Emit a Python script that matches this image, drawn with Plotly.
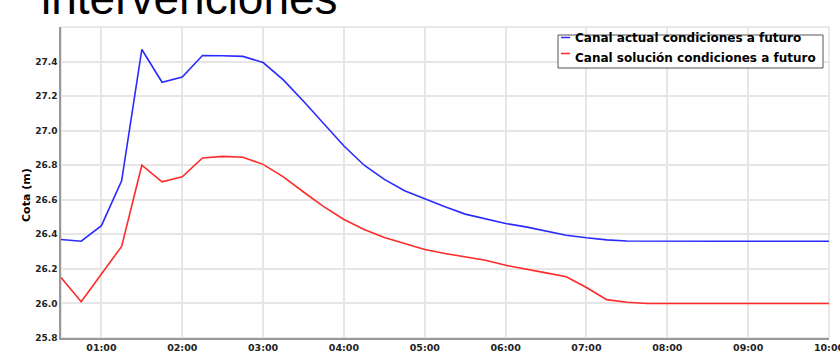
import plotly.graph_objects as go
import pandas as pd

# Time stamps every 15 minutes from 00:30 to 10:00
times = pd.date_range("2000-01-01 00:30", "2000-01-01 10:00", freq="15min")

actual = [26.37, 26.36, 26.45, 26.71, 27.47, 27.28, 27.31, 27.435, 27.434, 27.43,
          27.394, 27.294, 27.17, 27.043, 26.911, 26.80, 26.718, 26.652, 26.604, 26.559,
          26.517, 26.488, 26.463, 26.443, 26.419, 26.395, 26.38, 26.368, 26.361, 26.36,
          26.36, 26.36, 26.36, 26.36, 26.36, 26.36, 26.36, 26.36, 26.36]

solucion = [26.15, 26.01, 26.17, 26.33, 26.80, 26.704, 26.733, 26.842, 26.851, 26.846,
            26.805, 26.733, 26.645, 26.56, 26.486, 26.428, 26.382, 26.347, 26.312, 26.289,
            26.27, 26.25, 26.221, 26.197, 26.177, 26.154, 26.092, 26.022, 26.007, 26.0,
            26.0, 26.0, 26.0, 26.0, 26.0, 26.0, 26.0, 26.0, 26.0]

series_names = ["Canal actual condiciones a futuro", "Canal solución condiciones a futuro"]
series_colors = ["#2a2aff", "#ff2a2a"]
y_ticks = [25.8, 26.0, 26.2, 26.4, 26.6, 26.8, 27.0, 27.2, 27.4]
title_text = "intervenciones"
y_title = "Cota (m)"

W, H = 840, 356
ML, MR, MT, MB = 61, 11, 27, 18
PW, PH = W - ML - MR, H - MT - MB


def px(x):
    return (x - ML) / PW


def py(y):
    return (H - MB - y) / PH


fig = go.Figure()
for vals, name, col in zip([actual, solucion], series_names, series_colors):
    fig.add_trace(go.Scatter(x=times, y=vals, mode="lines", name=name,
                             line=dict(color=col, width=1.6), showlegend=False))

tick_font = "DejaVu Sans, Verdana, sans-serif"
title_font = "Liberation Sans, Arial, sans-serif"

shapes = [dict(type="rect", xref="paper", yref="paper", x0=0, x1=1, y0=0, y1=1,
               line=dict(color="#d0d0d0", width=1), layer="below")]
# custom legend box
shapes.append(dict(type="rect", xref="paper", yref="paper",
                   x0=px(558), x1=px(823), y0=py(68), y1=py(35),
                   line=dict(color="#555555", width=1), fillcolor="white", layer="above"))
annotations = [dict(text=title_text, xref="paper", yref="paper",
                    x=px(39), y=1.093, xanchor="left", yanchor="middle",
                    showarrow=False,
                    font=dict(family=title_font, size=46, color="black")),
               dict(text=y_title, xref="paper", yref="paper", x=px(27), y=py(195),
                    xanchor="center", yanchor="middle", textangle=-90, showarrow=False,
                    font=dict(family=tick_font, size=11, color="black", weight="bold"))]
row_y = [38.5, 57.5]
sample_y = [37.5, 53.5]
for name, col, ry, sy in zip(series_names, series_colors, row_y, sample_y):
    shapes.append(dict(type="line", xref="paper", yref="paper",
                       x0=px(561), x1=px(570), y0=py(sy), y1=py(sy),
                       line=dict(color=col, width=1.5), layer="above"))
    annotations.append(dict(text=name, xref="paper", yref="paper", x=px(574), y=py(ry),
                            xanchor="left", yanchor="middle", showarrow=False, borderpad=0,
                            font=dict(family=tick_font, size=12, color="black", weight="bold")))

fig.update_layout(
    width=W, height=H,
    margin=dict(l=ML, r=MR, t=MT, b=MB),
    paper_bgcolor="white", plot_bgcolor="white",
    showlegend=False,
    xaxis=dict(
        range=["2000-01-01 00:30", "2000-01-01 10:00"],
        tickformat="%H:%M", dtick=3600000,
        tick0="2000-01-01 01:00",
        showgrid=True, gridcolor="#e6e6e6", gridwidth=1.5,
        showline=True, linecolor="#999999", linewidth=1.5,
        ticks="", zeroline=False, automargin=False,
        ticklabeloverflow="allow",
        tickfont=dict(family=tick_font, size=9.5, color="#222222", weight="bold"),
    ),
    yaxis=dict(
        range=[25.8, 27.6],
        tickvals=y_ticks, ticktext=[f"{v:.1f}" for v in y_ticks],
        showgrid=True, gridcolor="#e6e6e6", gridwidth=1.5,
        showline=True, linecolor="#999999", linewidth=1.5,
        ticks="", zeroline=False, automargin=False,
        ticklabeloverflow="allow",
        tickfont=dict(family=tick_font, size=9, color="#222222", weight="bold"),
    ),
    shapes=shapes,
    annotations=annotations,
)

fig.write_html("out.html",
               config={"displayModeBar": False},
               post_script="document.body.style.margin='0';document.body.style.overflow='hidden';")
